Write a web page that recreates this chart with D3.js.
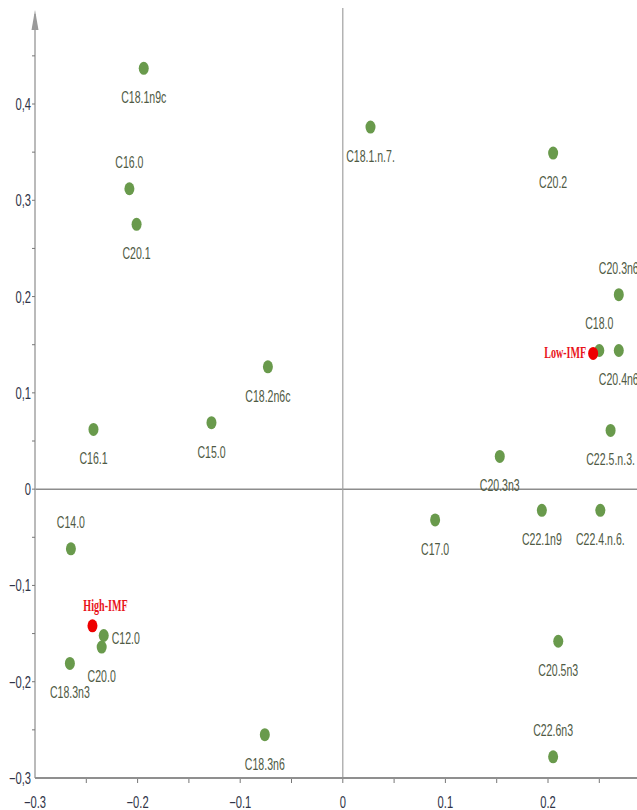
<!DOCTYPE html>
<html>
<head>
<meta charset="utf-8">
<title>PCA loadings</title>
<style>
  body { margin: 0; background: #fff; }
  svg { display: block; }
  .lbl { font-family: "Liberation Sans", Arial, sans-serif; font-size: 16px; fill: #4f5a44; }
  .tick { font-family: "Liberation Sans", Arial, sans-serif; font-size: 16px; fill: #2f3447; }
  .grp { font-family: "Liberation Serif", "DejaVu Serif", serif; font-weight: bold; font-size: 16px; fill: #e8131b; }
</style>
</head>
<body>
<div id="chart"></div>

<script src="https://cdn.jsdelivr.net/npm/d3@7"></script>
<script>

// variables (fatty acids)
var names = ["C18.1n9c", "C18.1.n.7.", "C20.2", "C16.0", "C20.1", "C20.3n6", "C18.0", "C20.4n6",
             "C18.2n6c", "C15.0", "C16.1", "C22.5.n.3.", "C20.3n3", "C22.1n9", "C22.4.n.6.", "C17.0",
             "C14.0", "C12.0", "C20.0", "C18.3n3", "C20.5n3", "C18.3n6", "C22.6n3"];
var pc1 = [-0.194, 0.027, 0.205, -0.208, -0.201, 0.269, 0.250, 0.269,
           -0.073, -0.128, -0.243, 0.261, 0.153, 0.194, 0.251, 0.090,
           -0.265, -0.233, -0.235, -0.266, 0.210, -0.076, 0.205];
var pc2 = [0.437, 0.376, 0.349, 0.312, 0.275, 0.202, 0.144, 0.144,
           0.127, 0.069, 0.062, 0.061, 0.034, -0.022, -0.022, -0.032,
           -0.062, -0.152, -0.164, -0.181, -0.158, -0.255, -0.278];

// sample groups
var groupNames = ["Low-IMF", "High-IMF"];
var groupPc1 = [0.244, -0.244];
var groupPc2 = [0.141, -0.142];

var xTicks = [-0.3, -0.2, -0.1, 0, 0.1, 0.2];
var yTicks = [-0.3, -0.2, -0.1, 0, 0.1, 0.2, 0.3, 0.4];


var W = 637, H = 810;
var squeeze = 0.66;   // text in the original is drawn very narrow

var svg = d3.select("#chart").append("svg")
    .attr("width", W)
    .attr("height", H);

var x = d3.scaleLinear().domain([-0.3, 0.2]).range([35, 548]);
var y = d3.scaleLinear().domain([-0.3, 0.4]).range([778, 104]);

var xMin = x(-0.3), yMin = y(-0.3);

function place(tx, ty, s) {
    return "translate(" + tx + "," + ty + ") scale(" + s + ",1)";
}

// zero lines
svg.append("line")
    .attr("x1", xMin).attr("x2", W)
    .attr("y1", y(0)).attr("y2", y(0))
    .attr("stroke", "#8d8d8d").attr("stroke-width", 1.5);
svg.append("line")
    .attr("x1", x(0)).attr("x2", x(0))
    .attr("y1", 8).attr("y2", yMin)
    .attr("stroke", "#a0a0a0").attr("stroke-width", 1.2);

// y axis
var yAxis = svg.append("g").attr("transform", "translate(" + xMin + ",0)");
yAxis.append("line")
    .attr("x1", 0).attr("x2", 0).attr("y1", 14).attr("y2", yMin)
    .attr("stroke", "#a3a3a3").attr("stroke-width", 1.5);
yAxis.append("path")
    .attr("d", "M0,10 L-3.5,30 L3.5,30 Z")
    .attr("fill", "#9a9a9a");
yAxis.selectAll(".ymin")
    .data(d3.range(-0.25, 0.5, 0.05))
    .enter().append("line")
    .attr("x1", -3).attr("x2", 0)
    .attr("y1", function(d) { return y(d); }).attr("y2", function(d) { return y(d); })
    .attr("stroke", "#777");
yAxis.selectAll(".tick")
    .data(yTicks)
    .enter().append("text")
    .attr("class", "tick")
    .attr("text-anchor", "end")
    .attr("transform", function(d) { return place(-4, y(d) + 6, 0.7); })
    .text(function(d) { return d3.format(".1~f")(d).replace(".", ","); });

// x axis
var xAxis = svg.append("g").attr("transform", "translate(0," + yMin + ")");
xAxis.append("line")
    .attr("x1", xMin).attr("x2", W).attr("y1", 0).attr("y2", 0)
    .attr("stroke", "#8f8f8f").attr("stroke-width", 2);
xAxis.selectAll(".xmin")
    .data(d3.range(-0.25, 0.3, 0.05))
    .enter().append("line")
    .attr("x1", function(d) { return x(d); }).attr("x2", function(d) { return x(d); })
    .attr("y1", 1).attr("y2", 5)
    .attr("stroke", "#777");
xAxis.selectAll(".tick")
    .data(xTicks)
    .enter().append("text")
    .attr("class", "tick")
    .attr("text-anchor", "middle")
    .attr("transform", function(d) { return place(x(d), 30, 0.7); })
    .text(function(d) { return d3.format(".1~f")(d); });

// where each label sits relative to its point
var side = { "C16.0": "above", "C20.3n6": "above", "C18.0": "above", "C14.0": "above",
             "C22.6n3": "above", "C12.0": "right" };

var pts = names.map(function(n, i) { return { name: n, px: pc1[i], py: pc2[i] }; });

var vars = svg.append("g");
vars.selectAll("ellipse")
    .data(pts)
    .enter().append("ellipse")
    .attr("cx", function(d) { return x(d.px); })
    .attr("cy", function(d) { return y(d.py); })
    .attr("rx", 5).attr("ry", 6.5)
    .attr("fill", "#699a4c");

vars.selectAll("text")
    .data(pts)
    .enter().append("text")
    .attr("class", "lbl")
    .attr("text-anchor", function(d) { return side[d.name] == "right" ? "start" : "middle"; })
    .attr("transform", function(d) {
        var s = side[d.name];
        var tx = s == "right" ? x(d.px) + 8 : x(d.px);
        var ty = y(d.py) + 35;
        if (s == "above") ty = y(d.py) - 21;
        if (s == "right") ty = y(d.py) + 9;
        return place(tx, ty, squeeze);
    })
    .text(function(d) { return d.name; });

// group centroids
var grp = groupNames.map(function(n, i) { return { name: n, px: groupPc1[i], py: groupPc2[i] }; });
var g2 = svg.append("g");
g2.selectAll("ellipse")
    .data(grp)
    .enter().append("ellipse")
    .attr("cx", function(d) { return x(d.px); })
    .attr("cy", function(d) { return y(d.py); })
    .attr("rx", 5).attr("ry", 6.5)
    .attr("fill", "#ee0000");

g2.selectAll("text")
    .data(grp)
    .enter().append("text")
    .attr("class", "grp")
    .attr("text-anchor", function(d, i) { return i == 0 ? "end" : "middle"; })
    .attr("transform", function(d, i) {
        var tx = i == 0 ? x(d.px) - 7 : x(d.px) + 13;
        var ty = i == 0 ? y(d.py) + 5 : y(d.py) - 15;
        return place(tx, ty, 0.63);
    })
    .text(function(d) { return d.name; });

</script>
</body>
</html>
